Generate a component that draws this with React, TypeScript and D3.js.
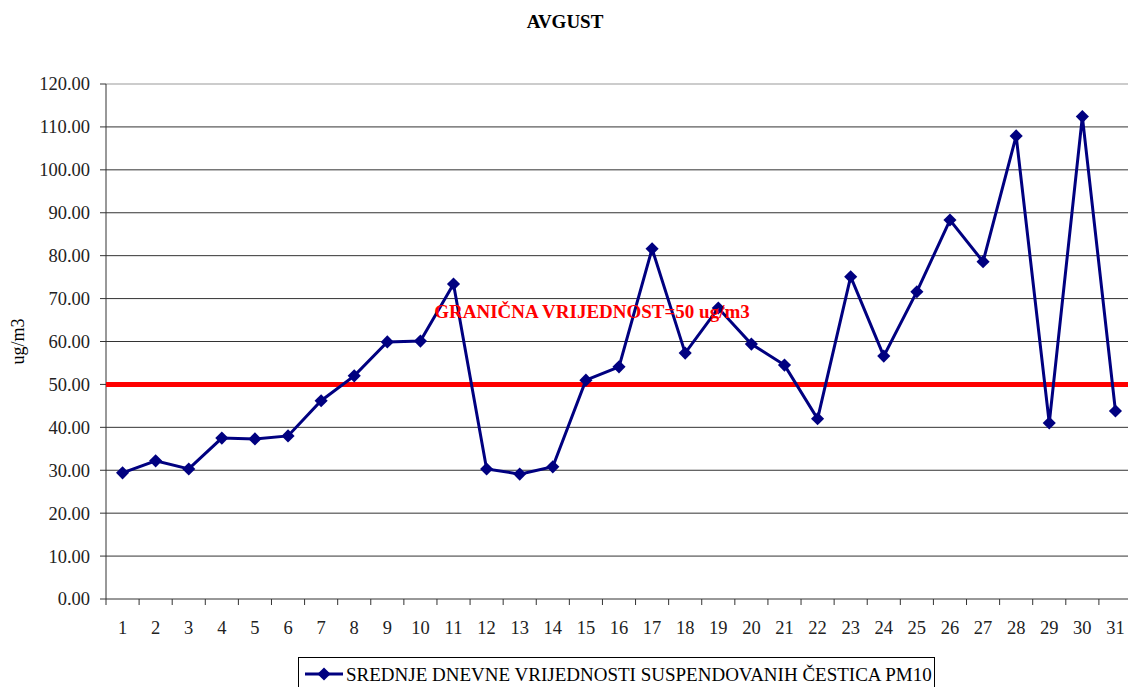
import React from 'react';
import * as d3 from 'd3';

const days = d3.range(1, 32).map(String);
const pm10 = [29.4, 32.2, 30.3, 37.5, 37.3, 38.0, 46.2, 52.0, 59.9, 60.1, 73.4, 30.3, 29.1, 30.8, 51.0, 54.1, 81.6, 57.3, 67.8, 59.4, 54.5, 42.0, 75.1, 56.6, 71.6, 88.3, 78.6, 107.9, 41.0, 112.4, 43.8];
const yTicks = [0, 10, 20, 30, 40, 50, 60, 70, 80, 90, 100, 110, 120];
const limitValue = 50;

const App = () => {
  const width = 1128;
  const height = 687;
  const margin = { top: 84, right: -4, bottom: 88, left: 106 };
  const serif = { fontFamily: "'Liberation Serif', 'DejaVu Serif', 'Times New Roman', serif" };

  const x = d3.scaleBand().domain(days).range([margin.left, width - margin.right]);
  const y = d3.scaleLinear().domain([0, 120]).range([height - margin.bottom, margin.top]);

  const line = d3.line<number>()
    .x((_, i) => x(days[i])! + x.bandwidth() / 2)
    .y(d => y(d));

  const diamond = d3.symbol().type(d3.symbolDiamond2).size(110)();

  return (
    <svg width={width} height={height} style={{ position: 'absolute', left: 0, top: 0 }}>
      <rect width={width} height={height} fill="#fff" />
      <text x={565} y={28} textAnchor="middle" style={serif} fontWeight="bold" fontSize={19}>AVGUST</text>

      {yTicks.map(t => (
        <g key={t}>
          <line x1={margin.left} x2={width} y1={y(t)} y2={y(t)} stroke={t === 120 ? '#999' : '#333'} strokeWidth={1} />
          <line x1={margin.left - 6} x2={margin.left} y1={y(t)} y2={y(t)} stroke="#333" />
          <text x={90} y={y(t)} dy="0.35em" textAnchor="end" style={serif} fontSize={18.5} fill="#222">{t.toFixed(2)}</text>
        </g>
      ))}

      <line x1={margin.left} x2={margin.left} y1={y(120)} y2={y(0)} stroke="#333" />
      {days.map(d => (
        <g key={d}>
          <line x1={x(d)!} x2={x(d)!} y1={y(0)} y2={y(0) + 6} stroke="#333" />
          <text x={x(d)! + x.bandwidth() / 2} y={634} textAnchor="middle" style={serif} fontSize={18.5} fill="#222">{d}</text>
        </g>
      ))}

      <text transform={`translate(24,${(y(0) + y(120)) / 2}) rotate(-90)`} textAnchor="middle" style={serif} fontSize={18}>ug/m3</text>

      <line x1={margin.left} x2={width} y1={y(limitValue)} y2={y(limitValue)} stroke="#ff0000" strokeWidth={5} />

      <path d={line(pm10) ?? ''} fill="none" stroke="#000080" strokeWidth={3} />
      {pm10.map((v, i) => (
        <path key={i} d={diamond ?? ''} transform={`translate(${x(days[i])! + x.bandwidth() / 2},${y(v)})`} fill="#000080" />
      ))}

      <text x={592} y={318} textAnchor="middle" style={serif} fontWeight="bold" fontSize={19} fill="#ff0000">GRANIČNA VRIJEDNOST=50 ug/m3</text>

      <rect x={298.5} y={657.5} width={636} height={40} fill="#fff" stroke="#000" />
      <line x1={305} x2={343} y1={674} y2={674} stroke="#000080" strokeWidth={3} />
      <path d={diamond ?? ''} transform="translate(324,674)" fill="#000080" />
      <text x={346} y={674} dy="0.35em" style={serif} fontSize={19}>SREDNJE DNEVNE VRIJEDNOSTI SUSPENDOVANIH ČESTICA PM10</text>
    </svg>
  );
};

export default App;
